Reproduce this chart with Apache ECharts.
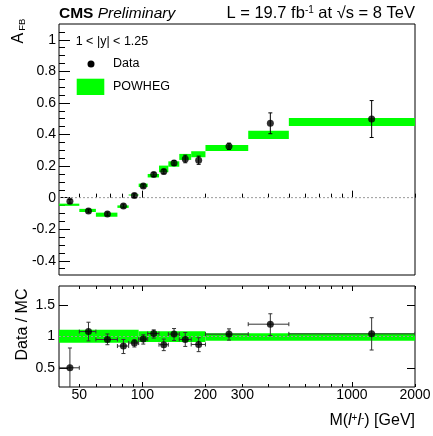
<!DOCTYPE html>
<html><head><meta charset="utf-8">
<script src="https://cdn.jsdelivr.net/npm/echarts@6/dist/echarts.min.js"></script>
<style>html,body{margin:0;padding:0;background:#fff}#c{width:433px;height:436px}</style>
</head><body><div id="c"></div>
<script>
// ---- data ----
const binLow  = [40, 50, 60, 76, 86, 96, 106, 120, 133, 150, 171, 200, 320, 500];
const binHigh = [50, 60, 76, 86, 96, 106, 120, 133, 150, 171, 200, 320, 500, 2000];
const massPoints = [45.1, 55.3, 68.1, 81.2, 91.6, 101, 113.3, 126.5, 141.6, 160.2, 185.6, 259, 408, 1242];
const afbData  = [-0.023, -0.084, -0.103, -0.053, 0.013, 0.074, 0.146, 0.165, 0.220, 0.245, 0.237, 0.325, 0.471, 0.498];
const afbErr   = [0.012, 0.012, 0.012, 0.012, 0.012, 0.012, 0.012, 0.014, 0.015, 0.024, 0.026, 0.020, 0.066, 0.117];
const powhegAfb = [-0.045, -0.081, -0.108, -0.057, 0.017, 0.078, 0.139, 0.182, 0.213, 0.258, 0.275, 0.315, 0.398, 0.479];
const powhegErr = [0.007, 0.010, 0.013, 0.008, 0.003, 0.011, 0.011, 0.021, 0.017, 0.019, 0.019, 0.019, 0.026, 0.025];
const ratioData = [0.504, 1.078, 0.953, 0.849, 0.896, 0.959, 1.047, 0.870, 1.038, 0.953, 0.874, 1.038, 1.195, 1.042];
const ratioErrUp   = [0.314, 0.148, 0.087, 0.104, 0.052, 0.068, 0.058, 0.089, 0.088, 0.110, 0.106, 0.083, 0.165, 0.256];
const ratioErrDown = [0.350, 0.148, 0.083, 0.119, 0.062, 0.079, 0.072, 0.094, 0.101, 0.110, 0.114, 0.095, 0.179, 0.256];
const bandLow  = [40, 96, 200];
const bandHigh = [96, 200, 2000];
const bandUp   = [1.105, 1.085, 1.053];
const bandDown = [0.900, 0.913, 0.932];
const xLabelValues = [50, 100, 200, 300, 1000, 2000];
const xMajorTicks = [100, 1000];
const xMinorTicks = [50, 60, 70, 80, 90, 200, 300, 400, 500, 600, 700, 800, 900, 2000];
const yTopLabels = [-0.4, -0.2, 0, 0.2, 0.4, 0.6, 0.8, 1];
const yTopMinor = [-0.45, -0.35, -0.3, -0.25, -0.15, -0.1, -0.05, 0.05, 0.1, 0.15, 0.25, 0.3, 0.35, 0.45, 0.5, 0.55, 0.65, 0.7, 0.75, 0.85, 0.9, 0.95, 1.05];
const yRatioLabels = [0.5, 1, 1.5];

const F = "'Liberation Sans', Arial, sans-serif";
const chart = echarts.init(document.getElementById('c'), null, {renderer: 'canvas'});

function logAxis(grid, pos, ticks, len, labels) {
  return {
    type: 'log', logBase: 10, min: 40, max: 2000, gridIndex: grid, position: pos,
    axisLine: {show: false}, splitLine: {show: false}, minorTick: {show: false},
    axisTick: {show: true, inside: true, length: len, customValues: ticks, lineStyle: {color: '#000', width: 1}},
    axisLabel: labels ? {show: true, customValues: labels, margin: 1, fontSize: 14, fontFamily: F, color: '#000',
      showMinLabel: true, showMaxLabel: true, formatter: v => String(Math.round(v))} : {show: false}
  };
}
function valAxis(grid, pos, min, max, ticks, len, labels, margin) {
  return {
    type: 'value', min: min, max: max, gridIndex: grid, position: pos,
    axisLine: {show: false}, splitLine: {show: false}, minorTick: {show: false},
    axisTick: {show: true, inside: true, length: len, customValues: ticks, lineStyle: {color: '#000', width: 1}},
    axisLabel: labels ? {show: true, customValues: labels, margin: margin, fontSize: 14, fontFamily: F, color: '#000',
      showMinLabel: true, showMaxLabel: true, formatter: v => String(+(+v).toFixed(2))} : {show: false}
  };
}

function errRender(withX, color, capW) {
  return function (params, api) {
    const cs = params.coordSys;
    const top = cs.y, bot = cs.y + cs.height;
    const x = api.value(0), y = api.value(1);
    const c = api.coord([x, y]);
    let pu = api.coord([x, api.value(3)])[1];
    let pd = api.coord([x, api.value(2)])[1];
    let capU = true, capD = true;
    if (pu < top) { pu = top; capU = false; }
    if (pd > bot) { pd = bot; capD = false; }
    const st = {stroke: color, lineWidth: 1};
    const ch = [{type: 'line', shape: {x1: c[0], y1: pu, x2: c[0], y2: pd}, style: st}];
    if (capU) ch.push({type: 'line', shape: {x1: c[0] - capW, y1: pu, x2: c[0] + capW, y2: pu}, style: st});
    if (capD) ch.push({type: 'line', shape: {x1: c[0] - capW, y1: pd, x2: c[0] + capW, y2: pd}, style: st});
    if (withX) {
      const xl = api.coord([api.value(4), y])[0], xr = api.coord([api.value(5), y])[0];
      ch.push({type: 'line', shape: {x1: xl, y1: c[1], x2: xr, y2: c[1]}, style: st});
      ch.push({type: 'line', shape: {x1: xl, y1: c[1] - capW, x2: xl, y2: c[1] + capW}, style: st});
      ch.push({type: 'line', shape: {x1: xr, y1: c[1] - capW, x2: xr, y2: c[1] + capW}, style: st});
    }
    return {type: 'group', children: ch};
  };
}
function boxRender(params, api) {
  const p1 = api.coord([api.value(0), api.value(2) + api.value(3)]);
  const p2 = api.coord([api.value(1), api.value(2) - api.value(3)]);
  return {type: 'rect', shape: {x: p1[0], y: p1[1], width: p2[0] - p1[0], height: Math.max(1, p2[1] - p1[1])},
    style: {fill: '#00ff00'}};
}

const powhegBoxes = binLow.map((lo, i) => [lo, binHigh[i], powhegAfb[i], powhegErr[i]]);
const topErr = massPoints.map((m, i) => [m, afbData[i], afbData[i] - afbErr[i], afbData[i] + afbErr[i]]);
const topPts = massPoints.map((m, i) => [m, afbData[i]]);
const bandBoxes = bandLow.map((lo, i) => [lo, bandHigh[i], (bandUp[i] + bandDown[i]) / 2, (bandUp[i] - bandDown[i]) / 2]);
const ratioErr = massPoints.map((m, i) => [m, ratioData[i], ratioData[i] - ratioErrDown[i], ratioData[i] + ratioErrUp[i], binLow[i], binHigh[i]]);
const ratioPts = massPoints.map((m, i) => [m, ratioData[i]]);

function t(x, y, text, size, align, extra) {
  return {type: 'text', x: x, y: y, style: Object.assign({text: text, fontSize: size, fontFamily: F, fill: '#000',
    align: align, verticalAlign: 'middle'}, extra || {})};
}

const option = {
  animation: false,
  backgroundColor: '#fff',
  grid: [
    {left: 59, top: 24, width: 356, height: 251, show: true, borderColor: '#000', borderWidth: 1, backgroundColor: 'transparent', containLabel: false, outerBoundsMode: 'none'},
    {left: 59, top: 286, width: 356, height: 101, show: true, borderColor: '#000', borderWidth: 1, backgroundColor: 'transparent', containLabel: false, outerBoundsMode: 'none'}
  ],
  xAxis: [
    logAxis(0, 'bottom', xMajorTicks, 7, null),
    logAxis(0, 'bottom', xMinorTicks, 4, null),
    logAxis(1, 'bottom', xMajorTicks, 5, xLabelValues),
    logAxis(1, 'bottom', xMinorTicks, 3, null),
    logAxis(1, 'top', xMajorTicks, 5, null),
    logAxis(1, 'top', xMinorTicks, 3, null)
  ],
  yAxis: [
    valAxis(0, 'left', -0.49, 1.1, yTopLabels, 11, yTopLabels, 3),
    valAxis(0, 'left', -0.49, 1.1, yTopMinor, 6, null, 3),
    valAxis(1, 'left', 0.2, 1.8, yRatioLabels, 9, yRatioLabels, 4),
    valAxis(1, 'right', 0.2, 1.8, yRatioLabels, 8, null, 4)
  ],
  series: [
    {type: 'custom', xAxisIndex: 0, yAxisIndex: 0, renderItem: boxRender, data: powhegBoxes, encode: {x: 0, y: 2}, clip: true, z: 2},
    {type: 'line', xAxisIndex: 0, yAxisIndex: 0, data: [[40, 0], [2000, 0]], symbol: 'none',
      lineStyle: {color: '#999', width: 1, type: [2, 2]}, z: 3},
    {type: 'custom', xAxisIndex: 0, yAxisIndex: 0, renderItem: errRender(false, '#000', 2), data: topErr, encode: {x: 0, y: 1}, clip: true, z: 4},
    {type: 'scatter', xAxisIndex: 0, yAxisIndex: 0, data: topPts, symbol: 'circle', symbolSize: 7, itemStyle: {color: '#000'}, z: 5},
    {type: 'custom', xAxisIndex: 2, yAxisIndex: 2, renderItem: boxRender, data: bandBoxes, encode: {x: 0, y: 2}, clip: true, z: 2},
    {type: 'line', xAxisIndex: 2, yAxisIndex: 2, data: [[40, 1], [2000, 1]], symbol: 'none',
      lineStyle: {color: '#999', width: 1, type: [2, 2]}, z: 3},
    {type: 'custom', xAxisIndex: 2, yAxisIndex: 2, renderItem: errRender(true, '#333', 2), data: ratioErr, encode: {x: 0, y: 1}, clip: true, z: 4},
    {type: 'scatter', xAxisIndex: 2, yAxisIndex: 2, data: ratioPts, symbol: 'circle', symbolSize: 7, itemStyle: {color: '#000'}, z: 5}
  ],
  graphic: [
    t(59, 13.5, '{b|CMS} {i|Preliminary}', 15.5, 'left',
      {rich: {b: {fontWeight: 'bold', fontSize: 15.5, fontFamily: F}, i: {fontStyle: 'italic', fontSize: 15.5, fontFamily: F}}}),
    t(415, 13.5, 'L = 19.7 fb{s|-1} at √s = 8 TeV', 16.5, 'right',
      {rich: {s: {fontSize: 10, fontFamily: F, verticalAlign: 'top', lineHeight: 16}}}),
    Object.assign(t(19, 43.5, 'A', 16, 'left'), {rotation: Math.PI / 2}),
    Object.assign(t(22.7, 30.7, 'FB', 9.5, 'left'), {rotation: Math.PI / 2}),
    Object.assign(t(22.5, 324.5, 'Data / MC', 16, 'center'), {rotation: Math.PI / 2}),
    t(415, 421, 'M({i|l}{s|+}{i|l}{s|-}) [GeV]', 16, 'right',
      {rich: {i: {fontStyle: 'italic', fontSize: 16, fontFamily: F}, s: {fontSize: 10, fontFamily: F, verticalAlign: 'top', lineHeight: 16}}}),
    t(75.7, 41.7, '1 < |y| < 1.25', 12.5, 'left'),
    {type: 'circle', shape: {cx: 91, cy: 64, r: 3.5}, style: {fill: '#000'}},
    t(113, 64, 'Data', 12.5, 'left'),
    {type: 'rect', shape: {x: 76.7, y: 78.7, width: 27.6, height: 16.3}, style: {fill: '#00ff00'}},
    t(113, 87, 'POWHEG', 12.5, 'left')
  ]
};
chart.setOption(option);
</script>
</body></html>
